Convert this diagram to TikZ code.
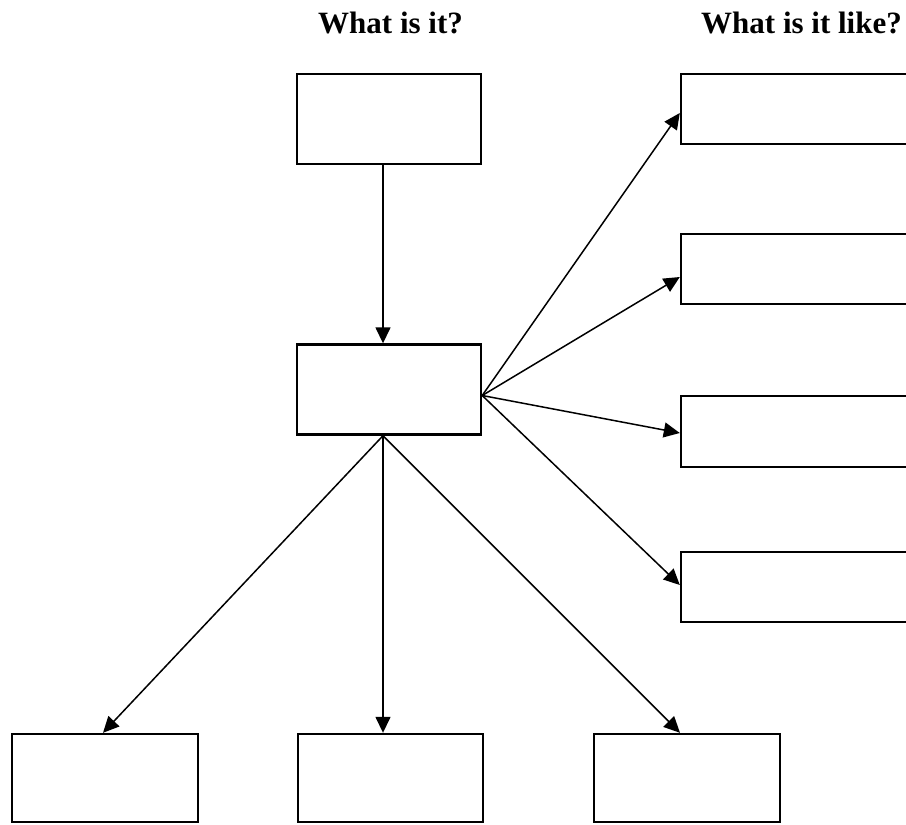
\documentclass[tikz,border=0pt]{standalone}
\usepackage{fontspec}
\setmainfont{Liberation Serif}
\usetikzlibrary{arrows.meta}
\begin{document}
\begin{tikzpicture}[x=1pt,y=-1pt,
  box/.style={draw, line width=2.4pt, inner sep=0pt, minimum width=#1},
  box/.default=184pt,
  arr/.style={line width=1.5pt, -{Triangle[length=16pt,width=15pt]}},
  heading/.style={anchor=base west, inner sep=0pt, font=\fontsize{31}{36}\selectfont\bfseries}]
\useasboundingbox (0,0) rectangle (906,825);

% headings
\node[heading] (h1) at (318,33) {What is it?};
\node[heading] (h2) at (701,33) {What is it like?};

% central column
\node[box, minimum height=90pt] (top) at (389,119) {};
\node[box, minimum height=90pt] (mid) at (389,389.5) {};

% bottom row
\node[box=186pt, minimum height=88pt] (b1) at (105,778) {};
\node[box=185pt, minimum height=88pt] (b2) at (390.5,778) {};
\node[box=186pt, minimum height=88pt] (b3) at (687,778) {};

% right column, running off the right edge
\begin{scope}
\clip (0,0) rectangle (906,825);
\node[box=279pt, minimum height=70pt] (r1) at (820.5,109) {};
\node[box=279pt, minimum height=70pt] (r2) at (820.5,269) {};
\node[box=279pt, minimum height=71pt] (r3) at (820.5,431.5) {};
\node[box=279pt, minimum height=70pt] (r4) at (820.5,587) {};
\end{scope}

% connectors
\coordinate (hubS) at ([xshift=-6pt]mid.south);
\coordinate (hubE) at ([yshift=-6pt]mid.east);
\draw[arr] ([xshift=-6pt]top.south) -- ([xshift=-6pt]mid.north);
\draw[arr] (hubS) -- ([xshift=-2pt]b1.north);
\draw[arr] (hubS) -- ([xshift=-7.5pt]b2.north);
\draw[arr] (hubS) -- ([xshift=-7pt]b3.north);
\draw[arr] (hubE) -- ([yshift=-4pt]r1.west);
\draw[arr] (hubE) -- ([yshift=-8pt]r2.west);
\draw[arr] (hubE) -- ([yshift=-1.5pt]r3.west);
\draw[arr] (hubE) -- ([yshift=2pt]r4.west);
\end{tikzpicture}
\end{document}
